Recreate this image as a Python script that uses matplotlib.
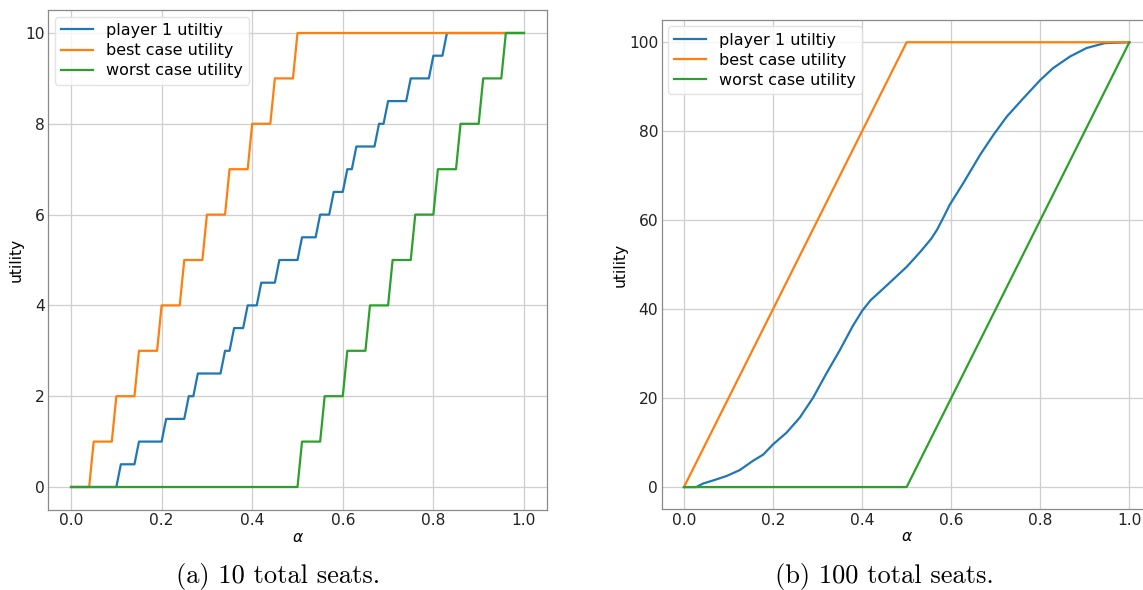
import matplotlib
matplotlib.use("Agg")
import matplotlib.pyplot as plt

# ---------------- data: 10 total seats ----------------
p1_10_alpha = [0, 0.10, 0.11, 0.14, 0.15, 0.20, 0.21, 0.25, 0.26, 0.27, 0.28, 0.33, 0.34,
               0.35, 0.36, 0.38, 0.39, 0.41, 0.42, 0.45, 0.46, 0.50, 0.51, 0.54, 0.55,
               0.57, 0.58, 0.60, 0.61, 0.62, 0.63, 0.67, 0.68, 0.69, 0.70, 0.74, 0.75,
               0.79, 0.80, 0.82, 0.83, 1.0]
p1_10_util = [0, 0, 0.5, 0.5, 1.0, 1.0, 1.5, 1.5, 2.0, 2.0, 2.5, 2.5, 3.0,
              3.0, 3.5, 3.5, 4.0, 4.0, 4.5, 4.5, 5.0, 5.0, 5.5, 5.5, 6.0,
              6.0, 6.5, 6.5, 7.0, 7.0, 7.5, 7.5, 8.0, 8.0, 8.5, 8.5, 9.0,
              9.0, 9.5, 9.5, 10.0, 10.0]

best_10_alpha = [0, 0.04, 0.05, 0.09, 0.10, 0.14, 0.15, 0.19, 0.20, 0.24, 0.25, 0.29,
                 0.30, 0.34, 0.35, 0.39, 0.40, 0.44, 0.45, 0.49, 0.50, 1.0]
best_10_util = [0, 0, 1, 1, 2, 2, 3, 3, 4, 4, 5, 5, 6, 6, 7, 7, 8, 8, 9, 9, 10, 10]

worst_10_alpha = [0, 0.50, 0.51, 0.55, 0.56, 0.60, 0.61, 0.65, 0.66, 0.70, 0.71, 0.75,
                  0.76, 0.80, 0.81, 0.85, 0.86, 0.90, 0.91, 0.95, 0.96, 1.0]
worst_10_util = [0, 0, 1, 1, 2, 2, 3, 3, 4, 4, 5, 5, 6, 6, 7, 7, 8, 8, 9, 9, 10, 10]

# ---------------- data: 100 total seats ----------------
p1_100_alpha = [0, 0.028, 0.043, 0.066, 0.096, 0.125, 0.155, 0.178, 0.20, 0.23, 0.26,
                0.29, 0.319, 0.349, 0.379, 0.40, 0.419, 0.455, 0.50, 0.53, 0.555,
                0.568, 0.582, 0.597, 0.627, 0.665, 0.695, 0.725, 0.762, 0.80, 0.829,
                0.867, 0.904, 0.945, 1.0]
p1_100_util = [0, 0, 0.8, 1.5, 2.5, 3.8, 5.9, 7.3, 9.6, 12.2, 15.6,
               20.1, 25.4, 30.6, 36.2, 39.6, 42.0, 45.3, 49.5, 52.8, 55.8,
               57.8, 60.5, 63.5, 68.3, 74.7, 79.2, 83.3, 87.4, 91.5, 94.2,
               96.8, 98.7, 99.8, 100]

best_100_alpha = [0, 0.5, 1.0]
best_100_util = [0, 100, 100]

worst_100_alpha = [0, 0.5, 1.0]
worst_100_util = [0, 0, 100]

series_labels = ["player 1 utiltiy", "best case utility", "worst case utility"]
series_colors = ["#1f77b4", "#ff7f0e", "#2ca02c"]
x_ticks = [0.0, 0.2, 0.4, 0.6, 0.8, 1.0]
y_ticks_10 = [0, 2, 4, 6, 8, 10]
y_ticks_100 = [0, 20, 40, 60, 80, 100]
captions = ["(a) 10 total seats.", "(b) 100 total seats."]

W, H = 1143, 590
fig = plt.figure(figsize=(W / 100, H / 100), dpi=100)

def px_axes(x0, y0, x1, y1):
    return fig.add_axes([x0 / W, (H - y1) / H, (x1 - x0) / W, (y1 - y0) / H])

ax1 = px_axes(48.4, 10.3, 546.6, 509.7)
ax2 = px_axes(661.7, 20.0, 1151.6, 509.3)

panels = [
    (ax1, [(p1_10_alpha, p1_10_util), (best_10_alpha, best_10_util), (worst_10_alpha, worst_10_util)], y_ticks_10),
    (ax2, [(p1_100_alpha, p1_100_util), (best_100_alpha, best_100_util), (worst_100_alpha, worst_100_util)], y_ticks_100),
]

for ax, series, yt in panels:
    for (xs, ys), lab, col in zip(series, series_labels, series_colors):
        ax.plot(xs, ys, color=col, lw=1.6, label=lab)
    ax.set_xticks(x_ticks)
    ax.set_yticks(yt)
    ax.set_xlim(-0.05, 1.05)
    lo, hi = yt[0], yt[-1]
    m = 0.05 * (hi - lo)
    ax.set_ylim(lo - m, hi + m)
    ax.grid(True, color="#cfcfcf", lw=0.9)
    ax.set_axisbelow(True)
    ax.tick_params(length=0, labelsize=11.2, colors="#222222")
    ax.tick_params(axis="x", pad=2.5)
    ax.tick_params(axis="y", pad=2.5)
    for s in ax.spines.values():
        s.set_color("#8a8a8a")
        s.set_linewidth(0.9)
    ax.set_xlabel(r"$\alpha$", fontsize=11.2, labelpad=1)
    ax.set_ylabel("utility", fontsize=11.2, labelpad=1)
    leg = ax.legend(loc="upper left", fontsize=11.5, frameon=True, fancybox=True,
                    borderaxespad=0.4, handlelength=2.0, labelspacing=0.32)
    leg.get_frame().set_edgecolor("#dddddd")

fig.text(278 / W, (H - 576) / H, captions[0], family="cmr10", fontsize=19,
         ha="center", va="center")
fig.text(884 / W, (H - 576) / H, captions[1], family="cmr10", fontsize=19,
         ha="center", va="center")

fig.savefig("out.png", dpi=100)
